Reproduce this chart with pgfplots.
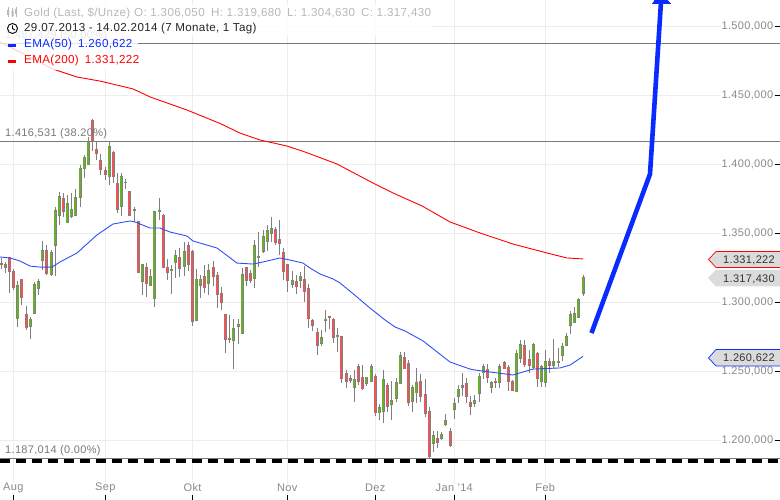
\documentclass[border=0pt]{standalone}
\usepackage{fontspec}
\setmainfont[LetterSpace=3.0]{Liberation Sans}
\usepackage{pgfplots}
\usepackage{pgfplotstable}
\pgfplotsset{compat=1.18}
\definecolor{cgreen}{HTML}{6AAE2E}
\definecolor{cred}{HTML}{E85858}
\definecolor{cbody}{HTML}{7F7F7F}
\definecolor{cgrid}{HTML}{EDEDED}
\definecolor{cfib}{HTML}{787878}
\definecolor{clab}{HTML}{8A8A8A}
\definecolor{cblue}{HTML}{0A2BFF}
\definecolor{cema}{HTML}{2F4FF5}
\pgfplotstableread{
x o h l c
5.7 1324.6 1329.0 1321.0 1326.8
17.7 1287.6 1315.2 1281.9 1311.6
30.3 1281.9 1289.1 1273.2 1287.6
34.3 1291.3 1314.5 1291.3 1312.3
38.3 1309.4 1316.6 1305.1 1314.5
42.3 1329.7 1344.2 1323.2 1337.0
51.3 1319.6 1337.7 1318.9 1335.5
55.3 1340.6 1368.9 1318.9 1366.0
59.3 1362.3 1379.7 1355.8 1376.1
67.3 1357.2 1377.6 1357.2 1371.0
71.3 1361.6 1379.0 1360.9 1366.7
75.3 1362.3 1381.9 1362.3 1375.4
80.3 1375.4 1399.2 1368.9 1397.0
84.3 1396.3 1406.5 1389.8 1405.0
88.3 1399.2 1419.5 1399.2 1415.9
109.3 1390.5 1415.9 1384.7 1412.3
121.3 1368.9 1393.4 1362.3 1391.2
125.3 1386.2 1389.1 1381.9 1386.9
142.3 1314.5 1327.5 1305.1 1326.8
150.3 1311.6 1323.9 1311.6 1318.2
154.3 1302.1 1365.2 1296.3 1365.2
159.3 1365.2 1375.4 1359.4 1366.0
171.3 1322.5 1326.8 1305.8 1323.2
175.3 1328.2 1337.7 1317.4 1333.3
184.3 1325.3 1343.5 1318.9 1336.2
196.3 1286.2 1323.9 1286.2 1315.9
200.3 1311.6 1319.6 1302.8 1316.6
208.3 1313.0 1327.5 1305.1 1322.5
233.3 1271.8 1287.6 1251.4 1280.4
238.3 1281.9 1287.6 1269.6 1283.3
242.3 1276.8 1324.6 1276.8 1319.6
254.3 1316.6 1344.9 1310.1 1340.6
258.3 1331.9 1350.8 1325.3 1332.6
263.3 1336.2 1352.2 1335.5 1347.1
267.3 1343.5 1355.8 1337.0 1351.5
271.3 1349.3 1361.6 1343.5 1352.9
292.3 1312.3 1322.5 1310.1 1315.2
300.3 1315.2 1321.8 1310.1 1318.2
321.3 1269.6 1279.7 1268.1 1273.9
325.3 1286.2 1294.2 1278.2 1287.6
337.3 1274.6 1281.1 1263.7 1275.4
354.3 1237.7 1250.7 1227.5 1243.5
366.3 1240.6 1245.6 1239.1 1245.6
371.3 1242.0 1255.1 1242.0 1252.9
379.3 1219.5 1226.1 1214.5 1223.2
383.3 1220.3 1250.7 1212.3 1243.5
391.3 1225.4 1242.7 1214.5 1228.3
396.3 1229.7 1245.0 1227.5 1241.3
400.3 1240.6 1263.7 1240.6 1260.9
412.3 1227.5 1239.8 1220.3 1237.7
416.3 1234.0 1252.2 1226.8 1241.3
433.3 1197.1 1206.5 1191.3 1202.9
441.3 1200.7 1205.8 1200.0 1204.3
445.3 1210.9 1218.8 1210.1 1213.8
454.3 1221.7 1230.4 1215.2 1226.1
458.3 1231.2 1239.8 1226.8 1236.9
462.3 1237.7 1248.5 1231.9 1239.1
474.3 1226.1 1232.6 1223.9 1228.3
479.3 1233.3 1248.5 1227.5 1246.3
483.3 1248.5 1255.1 1244.2 1252.9
491.3 1237.7 1242.7 1234.0 1241.3
499.3 1241.3 1255.1 1237.7 1252.9
516.3 1234.7 1265.2 1234.7 1263.0
520.3 1258.7 1272.5 1255.8 1268.8
533.3 1252.2 1270.3 1251.4 1268.8
541.3 1242.0 1254.3 1238.4 1252.9
545.3 1241.3 1265.2 1238.4 1256.5
553.3 1253.6 1273.2 1251.4 1257.2
558.3 1255.8 1266.6 1252.9 1257.2
562.3 1260.9 1270.3 1257.2 1267.4
566.3 1268.1 1277.5 1268.1 1274.6
570.3 1282.6 1293.5 1276.8 1290.6
574.3 1284.8 1296.4 1284.8 1291.3
578.3 1288.4 1302.8 1288.4 1302.1
583.3 1306.05 1319.68 1304.63 1317.43
}\greentable
\pgfplotstableread{
x o h l c
1.7 1327.5 1331.9 1323.9 1326.8
9.7 1331.9 1332.6 1306.5 1321.8
13.7 1321.8 1323.9 1308.7 1310.1
21.7 1316.6 1316.6 1297.8 1302.8
26.3 1290.6 1297.1 1279.7 1281.1
46.3 1337.0 1341.4 1319.6 1320.3
63.3 1374.6 1379.0 1361.6 1365.3
92.3 1431.2 1432.6 1409.4 1415.9
96.3 1410.8 1416.7 1402.9 1407.2
100.3 1402.2 1407.2 1392.0 1395.6
105.3 1394.9 1397.8 1388.4 1392.0
113.3 1408.0 1409.4 1386.2 1390.5
117.3 1385.5 1393.4 1364.5 1366.7
129.3 1379.7 1380.5 1362.3 1362.3
134.3 1366.7 1368.9 1358.0 1366.0
138.3 1358.0 1358.0 1321.0 1321.0
146.3 1324.6 1328.2 1303.6 1313.0
163.3 1363.0 1363.8 1324.6 1324.6
167.3 1325.3 1331.1 1315.9 1321.0
179.3 1331.9 1339.1 1318.2 1323.9
188.3 1340.6 1343.5 1322.5 1326.8
192.3 1336.2 1337.7 1282.6 1285.5
204.3 1318.2 1326.8 1306.5 1310.1
213.3 1325.3 1329.7 1311.6 1318.2
217.3 1318.9 1321.8 1295.6 1305.1
221.3 1305.8 1310.8 1294.2 1299.2
225.3 1290.6 1291.3 1263.0 1272.5
229.3 1273.2 1290.6 1270.3 1272.5
246.3 1324.6 1324.6 1311.6 1315.2
250.3 1320.3 1323.2 1313.7 1315.2
275.3 1352.2 1354.3 1341.4 1342.8
279.3 1344.9 1359.4 1334.0 1342.0
283.3 1335.5 1339.1 1315.9 1321.8
287.3 1326.8 1327.5 1307.2 1315.2
296.3 1314.5 1319.6 1305.8 1310.8
304.3 1315.9 1326.0 1300.0 1307.2
308.3 1309.4 1313.0 1281.1 1287.6
312.3 1286.2 1287.6 1279.0 1282.6
317.3 1278.2 1281.1 1261.6 1268.1
329.3 1289.1 1289.8 1280.4 1288.4
333.3 1287.6 1288.4 1270.3 1273.9
341.3 1274.6 1274.6 1241.3 1244.2
346.3 1247.8 1250.7 1237.7 1242.0
350.3 1244.2 1247.1 1241.3 1242.7
358.3 1252.9 1255.1 1239.8 1242.0
362.3 1245.6 1254.3 1236.2 1236.9
375.3 1246.3 1247.8 1217.3 1219.5
387.3 1239.1 1241.3 1220.3 1223.9
404.3 1259.4 1263.7 1251.4 1251.4
408.3 1255.1 1258.0 1224.6 1226.8
420.3 1242.0 1247.8 1227.5 1231.2
425.3 1232.6 1244.2 1216.6 1218.8
429.3 1220.3 1223.9 1187.0 1187.7
437.3 1200.7 1206.5 1194.2 1197.8
450.3 1205.8 1208.7 1194.9 1195.7
466.3 1240.6 1245.0 1226.8 1231.2
470.3 1226.8 1231.9 1218.1 1223.9
487.3 1251.4 1255.1 1241.3 1244.9
495.3 1242.7 1245.0 1237.7 1241.3
504.3 1255.8 1257.2 1251.4 1251.4
508.3 1252.2 1254.3 1235.5 1242.0
512.3 1242.7 1243.5 1235.5 1235.5
524.3 1268.1 1272.5 1252.9 1254.3
529.3 1258.0 1265.2 1248.5 1253.6
537.3 1263.0 1263.7 1238.4 1244.2
549.3 1256.5 1259.4 1248.5 1253.6
}\redtable
\pgfplotstableread{
x y
0 1488.4
53 1468.8
77 1463.0
100 1460.1
133 1454.4
150 1448.6
187 1439.1
220 1429.4
240 1422.4
260 1417.4
287 1413.0
305 1408.7
337 1400.0
373 1386.2
393 1379.0
422 1369.6
450 1358.0
480 1350.0
513 1342.0
547 1335.5
567 1331.9
583 1331.2
}\emaII
\pgfplotstableread{
x y
0 1332.6
10 1331.9
20 1329.7
30 1326.0
40 1325.3
52 1325.3
60 1329.0
77 1335.5
97 1348.6
113 1356.5
130 1358.7
135 1358.0
150 1353.6
160 1353.6
170 1350.7
187 1347.8
193 1344.2
217 1339.1
237 1328.2
253 1327.5
263 1329.0
280 1331.9
290 1330.4
303 1328.2
310 1324.6
320 1320.3
333 1316.7
340 1313.8
357 1303.6
370 1295.6
385 1287.0
395 1281.9
405 1279.0
423 1271.8
450 1256.5
470 1251.4
475 1250.7
513 1247.1
533 1251.4
560 1252.2
570 1254.3
583 1260.6
}\emaI
\begin{document}
\begin{tikzpicture}
\path[use as bounding box] (0,0) rectangle (780pt,500pt);
\begin{axis}[
  at={(0,0)}, anchor=south west,
  width=780pt, height=500pt, scale only axis,
  xmin=0, xmax=780, ymin=1156.52, ymax=1518.84,
  axis line style={draw=none},
  xtick={13.3,105.3,192.5,287.3,375.3,454.3,545.3},
  xticklabels={Aug,Sep,Okt,Nov,Dez,{Jan '14},Feb},
  ytick={1200,1250,1300,1350,1400,1450,1500},
  yticklabels={{1.200,000},{1.250,000},{1.300,000},{1.350,000},{1.400,000},{1.450,000},{1.500,000}},
  xtick pos=bottom, ytick pos=right, tick align=inside,
  major tick length=5pt,
  tick style={black, line width=0.8pt},
  grid=major, grid style={cgrid, line width=0.9pt},
  yticklabel pos=right,
  ticklabel style={font=\fontsize{11}{12}\selectfont, text=clab, fill=white, inner sep=0.6pt},
  yticklabel style={anchor=east, xshift=-6pt},
  xticklabel style={anchor=center, yshift=12pt},
  clip=true,
]
% Fibonacci lines
\addplot[cfib, line width=0.8pt, forget plot] coordinates {(0,1487.429) (780,1487.429)};
\addplot[cfib, line width=0.8pt, forget plot] coordinates {(0,1416.531) (780,1416.531)};
\addplot[cfib, line width=0.8pt, forget plot] coordinates {(0,1187.014) (780,1187.014)};
\addplot[black, line width=4pt, dash pattern=on 10pt off 6pt, forget plot] coordinates {(0,1184.9) (780,1184.9)};
% wicks
\addplot[draw=none, no markers, forget plot, error bars/.cd, y dir=both, y explicit, error mark=none,
  error bar style={draw=cbody, line width=0.9pt}] table[x=x, y=o, y error plus expr=\thisrow{h}-\thisrow{o}, y error minus expr=\thisrow{o}-\thisrow{l}] {\greentable};
\addplot[draw=none, no markers, forget plot, error bars/.cd, y dir=both, y explicit, error mark=none,
  error bar style={draw=cbody, line width=0.9pt}] table[x=x, y=o, y error plus expr=\thisrow{h}-\thisrow{o}, y error minus expr=\thisrow{o}-\thisrow{l}] {\redtable};
% bodies, outline
\addplot[draw=none, no markers, forget plot, error bars/.cd, y dir=plus, y explicit, error mark=none,
  error bar style={draw=cbody, line width=3.3pt}] table[x=x, y=o, y error plus expr=\thisrow{c}-\thisrow{o}+0.4] {\greentable};
\addplot[draw=none, no markers, forget plot, error bars/.cd, y dir=plus, y explicit, error mark=none,
  error bar style={draw=cbody, line width=3.3pt}] table[x=x, y=c, y error plus expr=\thisrow{o}-\thisrow{c}+0.4] {\redtable};
% bodies, fill
\addplot[draw=none, no markers, forget plot, error bars/.cd, y dir=plus, y explicit, error mark=none,
  error bar style={draw=cgreen, line width=1.9pt}] table[x=x, y expr=\thisrow{o}+0.4, y error plus expr={max(0,\thisrow{c}-\thisrow{o}-0.6)}] {\greentable};
\addplot[draw=none, no markers, forget plot, error bars/.cd, y dir=plus, y explicit, error mark=none,
  error bar style={draw=cred, line width=1.9pt}] table[x=x, y expr=\thisrow{c}+0.4, y error plus expr={max(0,\thisrow{o}-\thisrow{c}-0.6)}] {\redtable};
% EMAs
\addplot[red, line width=0.9pt, forget plot] table[x=x,y=y] {\emaII};
\addplot[cema, line width=0.9pt, forget plot] table[x=x,y=y] {\emaI};
% drawn arrow
\addplot[cblue, line width=4.6pt, line join=round, forget plot] coordinates {(591.5,1277.5) (650,1392.7) (661,1517.4)};
\addplot[cblue, fill=cblue, line width=0pt, forget plot] coordinates {(652.5,1516.6) (670,1516.6) (667.5,1518.84) (655,1518.84)} -- cycle;
\end{axis}
\begin{scope}[x=1pt, y=-1pt, shift={(0pt,500pt)}]
  \clip (0,0) rectangle (780,500);
  % text behind the legend
  \node[anchor=west, text=clab, inner sep=0pt, font=\fontsize{11}{12}\selectfont] at (5,36) {1.487,429 (50.00\%)};
  \node[anchor=west, text=cfib, inner sep=0pt, font=\fontsize{11}{12}\selectfont] at (5,134) {1.416,531 (38.20\%)};
  \node[anchor=west, text=cfib, inner sep=0pt, font=\fontsize{11}{12}\selectfont] at (5,451) {1.187,014 (0.00\%)};
  % legend veil
  \fill[white, opacity=0.8] (0,0) rectangle (138,70);
  \fill[white, opacity=0.8] (138,5) rectangle (432,35);
  % legend
  \begin{scope}[font=\fontsize{11.6}{12}\selectfont, every node/.style={anchor=west, inner sep=0pt}]
    \node[text=black!28] at (24,13) {Gold (Last, \$/Unze)};
    \node[text=black!28] at (134,13) {O: 1.306,050};
    \node[text=black!28] at (211,13) {H: 1.319,680};
    \node[text=black!28] at (287,13) {L: 1.304,630};
    \node[text=black!28] at (361,13) {C: 1.317,430};
    \node[text=black!85] at (24,29) {29.07.2013 - 14.02.2014 (7 Monate, 1 Tag)};
    \node[text=cblue] at (24,45) {EMA(50)\hspace{6pt}1.260,622};
    \node[text=red] at (24,61) {EMA(200)\hspace{6pt}1.331,222};
  \end{scope}
  % icons
  \draw[black!28, line width=0.8pt] (8,7)--(8,17) (12.5,8)--(12.5,17) (16,7)--(16,17);
  \fill[black!28] (7,10) rectangle (9,15) (11.5,11) rectangle (13.5,16) (15,9) rectangle (17,14);
  \draw[black, line width=0.9pt] (12.5,28.5) circle (5);
  \draw[black, line width=0.9pt] (12.5,25.5)--(12.5,28.5)--(15,30);
  \fill[cblue] (8,44) rectangle (16,47);
  \fill[red] (8,60) rectangle (16,63);
  % price tags
  \tikzset{tagtext/.style={anchor=east, inner sep=0pt, text=black!80, font=\fontsize{11}{12}\selectfont}}
  \filldraw[fill=black!14, draw=red, line width=0.7pt] (781,251.5)--(716,251.5)--(708.5,259.5)--(716,267.5)--(781,267.5);
  \node[tagtext] at (775,260) {1.331,222};
  \fill[black!14] (781,270)--(716,270)--(708,278)--(716,286.5)--(781,286.5)--cycle;
  \node[tagtext] at (775,279) {1.317,430};
  \filldraw[fill=black!14, draw=cblue, line width=0.7pt] (781,349.5)--(716,349.5)--(708.5,358)--(716,366)--(781,366);
  \node[tagtext] at (775,358.5) {1.260,622};
\end{scope}
\end{tikzpicture}
\end{document}
